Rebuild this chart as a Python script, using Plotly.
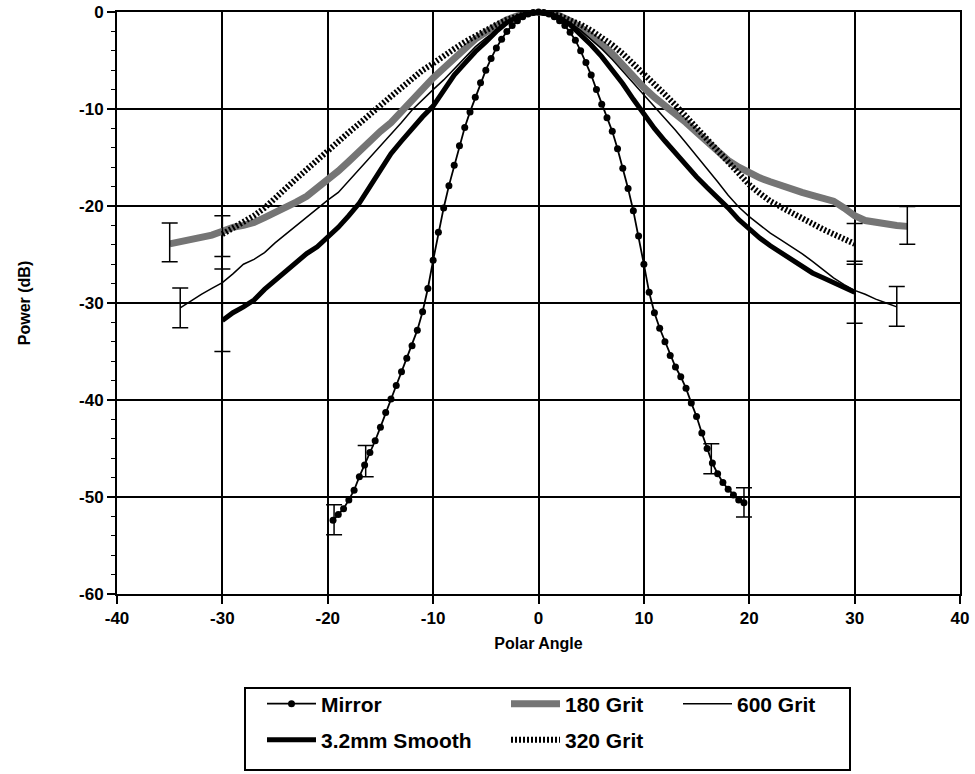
import plotly.graph_objects as go

# ---------------- data ----------------
mirror_x = [-19.5, -19.0, -18.5, -18.0, -17.5, -17.0, -16.5, -16.0, -15.5, -15.0,
            -14.5, -14.0, -13.5, -13.0, -12.5, -12.0, -11.5, -11.0, -10.5, -10.0,
            -9.5, -9.0, -8.5, -8.0, -7.5, -7.0, -6.5, -6.0, -5.5, -5.0,
            -4.5, -4.0, -3.5, -3.0, -2.5, -2.0, -1.5, -1.0, -0.5, 0.0,
            0.5, 1.0, 1.5, 2.0, 2.5, 3.0, 3.5, 4.0, 4.5, 5.0,
            5.5, 6.0, 6.5, 7.0, 7.5, 8.0, 8.5, 9.0, 9.5, 10.0,
            10.5, 11.0, 11.5, 12.0, 12.5, 13.0, 13.5, 14.0, 14.5, 15.0,
            15.5, 16.0, 16.5, 17.0, 17.5, 18.0, 18.5, 19.0, 19.5]
mirror_y = [-52.4, -51.8, -51.2, -50.3, -49.3, -47.9, -46.7, -45.4, -44.2, -42.8,
            -41.3, -39.9, -38.5, -37.1, -35.7, -34.4, -32.8, -30.9, -28.5, -25.6,
            -22.7, -20.2, -17.9, -15.8, -13.8, -11.9, -10.3, -8.8, -7.3, -6.0,
            -4.8, -3.7, -2.8, -2.0, -1.4, -0.9, -0.5, -0.2, -0.05, 0.0,
            -0.05, -0.2, -0.5, -0.9, -1.4, -2.1, -2.9, -4.0, -5.2, -6.5,
            -8.0, -9.5, -10.9, -12.3, -14.1, -16.1, -18.2, -20.5, -23.1, -26.0,
            -28.9, -31.0, -32.6, -34.0, -35.4, -36.6, -37.6, -38.8, -40.3, -41.7,
            -43.4, -45.0, -46.5, -47.6, -48.5, -49.2, -49.8, -50.3, -50.6]

grit180_x = list(range(-35, 36))
grit180_y = [-23.9, -23.7, -23.5, -23.3, -23.0, -22.6, -22.2, -22.0, -21.7, -21.2,
             -20.7, -20.2, -19.6, -19.0, -18.2, -17.3, -16.4, -15.4, -14.3, -13.2,
             -12.3, -11.4, -10.2, -9.2, -7.9, -6.8, -5.8, -4.8, -3.7, -2.8,
             -2.1, -1.4, -0.8, -0.4, -0.1, 0.0,
             -0.1, -0.4, -0.9, -1.6, -2.4, -3.3, -4.3, -5.5, -6.7, -7.8,
             -8.8, -9.6, -10.5, -11.4, -12.4, -13.4, -14.4, -15.3, -16.0, -16.6,
             -17.1, -17.5, -17.9, -18.3, -18.6, -18.9, -19.2, -19.5, -20.2, -21.0,
             -21.5, -21.7, -21.8, -22.0, -22.1]

grit320_x = list(range(-30, 31))
grit320_y = [-22.9, -22.3, -21.7, -21.0, -20.2, -19.3, -18.2, -17.2, -16.2, -15.3,
             -14.4, -13.4, -12.4, -11.5, -10.5, -9.6, -8.7, -7.8, -6.8, -6.0,
             -5.3, -4.5, -3.8, -3.1, -2.5, -1.8, -1.3, -0.8, -0.4, -0.1, 0.0,
             -0.1, -0.4, -0.8, -1.3, -1.9, -2.6, -3.4, -4.3, -5.3, -6.3,
             -7.4, -8.5, -9.6, -10.8, -12.0, -13.2, -14.4, -15.6, -16.8, -17.8,
             -18.7, -19.5, -20.1, -20.7, -21.3, -21.9, -22.4, -22.9, -23.4, -23.9]

grit600_x = list(range(-34, 35))
grit600_y = [-30.5, -29.8, -29.1, -28.5, -27.9, -27.0, -26.0, -25.5, -24.8, -23.8,
             -22.9, -22.1, -21.2, -20.3, -19.4, -18.6, -17.4, -16.3, -15.0, -13.9,
             -12.7, -11.4, -10.1, -9.0, -8.0, -7.0, -5.9, -4.7, -3.6, -2.7,
             -1.9, -1.1, -0.5, -0.1, 0.0,
             -0.1, -0.5, -1.1, -1.9, -2.8, -3.8, -4.9, -6.1, -7.3, -8.5,
             -9.8, -11.0, -12.2, -13.5, -14.8, -16.1, -17.5, -18.9, -20.1, -21.1,
             -22.0, -22.8, -23.5, -24.2, -24.9, -25.7, -26.6, -27.4, -28.1, -28.7,
             -29.1, -29.6, -30.0, -30.4]

smooth_x = list(range(-30, 31))
smooth_y = [-31.8, -31.0, -30.4, -29.7, -28.6, -27.7, -26.8, -25.8, -24.9, -24.2,
            -23.2, -22.2, -21.0, -19.7, -18.0, -16.3, -14.6, -13.3, -12.0, -10.8,
            -9.7, -8.2, -6.5, -5.3, -4.1, -3.1, -2.0, -1.1, -0.5, -0.1, 0.0,
            -0.2, -0.6, -1.3, -2.3, -3.4, -4.6, -5.9, -7.4, -9.0, -10.6,
            -12.0, -13.3, -14.6, -15.9, -17.0, -18.1, -19.1, -20.2, -21.4, -22.4,
            -23.3, -24.1, -24.8, -25.5, -26.2, -26.9, -27.4, -27.9, -28.4, -28.9]

# error bars (angle, centre, half-range)
err_x = [-35, 35, -30, 30, -34, 34, -30, 30, -16.4, -19.4, 16.4, 19.5]
err_y = [-23.75, -22.0, -23.1, -23.9, -30.5, -30.35, -30.75, -28.9, -46.3, -52.35, -46.05, -50.55]
err_size = [2.0, 1.95, 2.1, 2.1, 2.05, 2.05, 4.25, 3.2, 1.6, 1.55, 1.55, 1.5]

x_ticks = [-40, -30, -20, -10, 0, 10, 20, 30, 40]
y_ticks = [0, -10, -20, -30, -40, -50, -60]

# ---------------- figure ----------------
FONT = "Liberation Sans, Arial, sans-serif"
LEGEND_FONT = dict(family=FONT, size=21, color="black", weight="bold")
fig = go.Figure()

fig.add_trace(go.Scatter(x=grit180_x, y=grit180_y, mode="lines", name="180 Grit",
                         line=dict(color="#757575", width=7), legend="legend2", cliponaxis=False))
fig.add_trace(go.Scatter(x=grit320_x, y=grit320_y, mode="lines", name="320 Grit",
                         line=dict(color="black", width=6, dash="2px,2px"), legend="legend5", cliponaxis=False))
fig.add_trace(go.Scatter(x=grit600_x, y=grit600_y, mode="lines", name="600 Grit",
                         line=dict(color="black", width=1.5), legend="legend3", cliponaxis=False))
fig.add_trace(go.Scatter(x=smooth_x, y=smooth_y, mode="lines", name="3.2mm Smooth",
                         line=dict(color="black", width=5), legend="legend4", cliponaxis=False))
fig.add_trace(go.Scatter(x=mirror_x, y=mirror_y, mode="lines+markers", name="Mirror",
                         line=dict(color="black", width=1.8),
                         marker=dict(color="black", size=7, symbol="circle"),
                         legend="legend", cliponaxis=False))
fig.add_trace(go.Scatter(x=err_x, y=err_y, mode="markers", showlegend=False,
                         marker=dict(size=0.1, color="rgba(0,0,0,0)"),
                         error_y=dict(type="data", array=err_size, visible=True,
                                      color="black", thickness=1.5, width=8),
                         cliponaxis=False))

axis_common = dict(showline=True, linecolor="black", linewidth=2, mirror=True,
                   showgrid=True, gridcolor="black", gridwidth=1.5,
                   ticks="outside", ticklen=8, tickwidth=1.5, tickcolor="black",
                   tickfont=dict(family=FONT, size=17, color="black", weight="bold"),
                   zeroline=False)

fig.update_xaxes(range=[-40, 40], tickvals=x_ticks, ticktext=[str(v) for v in x_ticks],
                 title=dict(text="Polar Angle", font=dict(family=FONT, size=16, color="black", weight="bold"),
                            standoff=10),
                 **axis_common)
fig.update_yaxes(range=[-60, 0], tickvals=y_ticks, ticktext=[str(v) for v in y_ticks],
                 title=dict(text="Power (dB)", font=dict(family=FONT, size=16, color="black", weight="bold"),
                            standoff=44),
                 minor=dict(ticks="outside", ticklen=4, tickwidth=1, tickcolor="black", dtick=2,
                            showgrid=False),
                 **axis_common)

# plot area in page pixels: x 117..960, y 12..594
def px_x(p):
    return (p - 117) / 843.0

def px_y(p):
    return (594 - p) / 582.0

def leg(xp, yp):
    return dict(orientation="v", x=px_x(xp), xanchor="left", y=px_y(yp), yanchor="middle",
                borderwidth=0, bgcolor="rgba(0,0,0,0)", itemwidth=49,
                font=LEGEND_FONT)

fig.update_layout(
    width=975, height=774,
    margin=dict(l=117, r=15, t=12, b=180, autoexpand=False),
    plot_bgcolor="white", paper_bgcolor="white",
    font=dict(family=FONT, color="black"),
    showlegend=True,
    legend=leg(262, 704),
    legend2=leg(506, 704),
    legend3=leg(678, 704),
    legend4=leg(262, 740),
    legend5=leg(506, 740),
    shapes=[dict(type="rect", xref="paper", yref="paper",
                 x0=px_x(245), x1=px_x(850), y0=px_y(770), y1=px_y(688),
                 line=dict(color="black", width=2), fillcolor="rgba(0,0,0,0)")],
)

fig.write_html("out.html", config={"displayModeBar": False},
               post_script="document.body.style.margin='0';")
